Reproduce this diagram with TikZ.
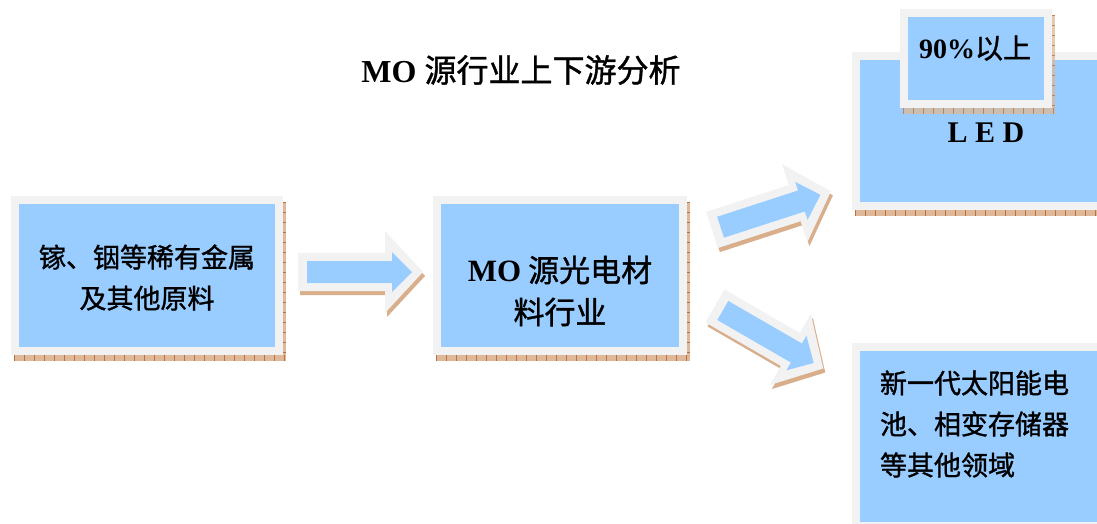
\documentclass[tikz,border=0pt]{standalone}
\usepackage{fontspec}
\setmainfont{Liberation Serif}
\newfontfamily\cjk[FakeBold=1.2]{Noto Sans CJK SC}
\definecolor{boxblue}{RGB}{153,204,255}
\definecolor{boxgray}{RGB}{242,242,242}
\definecolor{shtan}{RGB}{222,184,152}
\definecolor{shtick}{RGB}{180,115,65}
\newcommand\boxshadow[4]{%
  \fill[shtan] (#1+3,#2+6) rectangle (#3+3,#4+6);
  \draw[shtick, line width=6pt, dash pattern=on 1pt off 9pt] (#1+3,#4+3) -- (#3+3,#4+3);
  \draw[shtick, line width=3pt, dash pattern=on 1pt off 9pt] (#3+1.5,#2+6) -- (#3+1.5,#4+6);}
\tikzset{
  box/.style={draw=boxgray, line width=8pt, fill=boxblue, inner sep=0pt},
  cjktext/.style={font=\cjk\fontsize{27}{41}\selectfont, align=center, text=black, inner sep=0pt},
  arrowbody/.pic={
    \fill[boxgray] (0,-19) -- (87,-19) -- (87,-41) -- (125,0) -- (87,41) -- (87,19) -- (0,19) -- cycle;
    \fill[boxblue] (9,-11) -- (94,-11) -- (94,-20) -- (114,0) -- (94,20) -- (94,11) -- (9,11) -- cycle;},
  arrowshadow/.pic={
    \fill[shtan!85!shtick] (0,-19) -- (87,-19) -- (87,-41) -- (125,0) -- (87,41) -- (87,19) -- (0,19) -- cycle;}
}
\begin{document}
\begin{tikzpicture}[x=1pt,y=-1pt]
\clip (0,0) rectangle (1097,523);
\fill[white] (0,0) rectangle (1097,523);

% title
\node[font=\fontsize{32}{38}\selectfont, inner sep=0pt] (title) at (521,70) {\textbf{MO} {\cjk 源行业上下游分析}};

% source box
\boxshadow{11}{196}{283}{355}
\node[box, minimum width=264pt, minimum height=151pt] (src) at (147,275.5) {};
\node[cjktext] (srctext) at (147,277.5) {镓、铟等稀有金属\\及其他原料};

% MO box
\boxshadow{433}{196}{687}{355}
\node[box, minimum width=246pt, minimum height=151pt] (mo) at (560,275.5) {};
\node[cjktext, font=\cjk\fontsize{31}{42}\selectfont] (motext) at (560,291) {{\rmfamily\bfseries MO} 源光电材\\料行业};

% LED box
\boxshadow{852}{52}{1110}{210}
\node[box, minimum width=250pt, minimum height=150pt] (led) at (981,131) {};
\node[font=\bfseries\fontsize{30}{36}\selectfont, inner sep=0pt] (ledtext) at (986,133) {L E D};

% 90% box
\begin{scope}[opacity=0.75]
\boxshadow{900}{9}{1052}{108}
\end{scope}
\node[box, minimum width=144pt, minimum height=91pt] (pct) at (976,58.5) {};
\node[font=\fontsize{28}{34}\selectfont, inner sep=0pt] (pcttext) at (975,48) {\textbf{90\%}{\cjk 以上}};

% application box
\node[box, minimum width=250pt, minimum height=179pt] (app) at (981,436.5) {};
\node[cjktext, align=left] (apptext) at (974.5,424) {新一代太阳能电\\池、相变存储器\\等其他领域};

% block arrows
\pic[rotate=0] at (300,276) {arrowshadow};
\pic[rotate=0] (a1) at (298,272) {arrowbody};
\pic[rotate=18] at (714,234) {arrowshadow};
\pic[rotate=18] (a2) at (712,230) {arrowbody};
\pic[rotate=-30] at (717,310) {arrowshadow};
\pic[rotate=-30] (a3) at (715,306) {arrowbody};
\end{tikzpicture}
\end{document}
